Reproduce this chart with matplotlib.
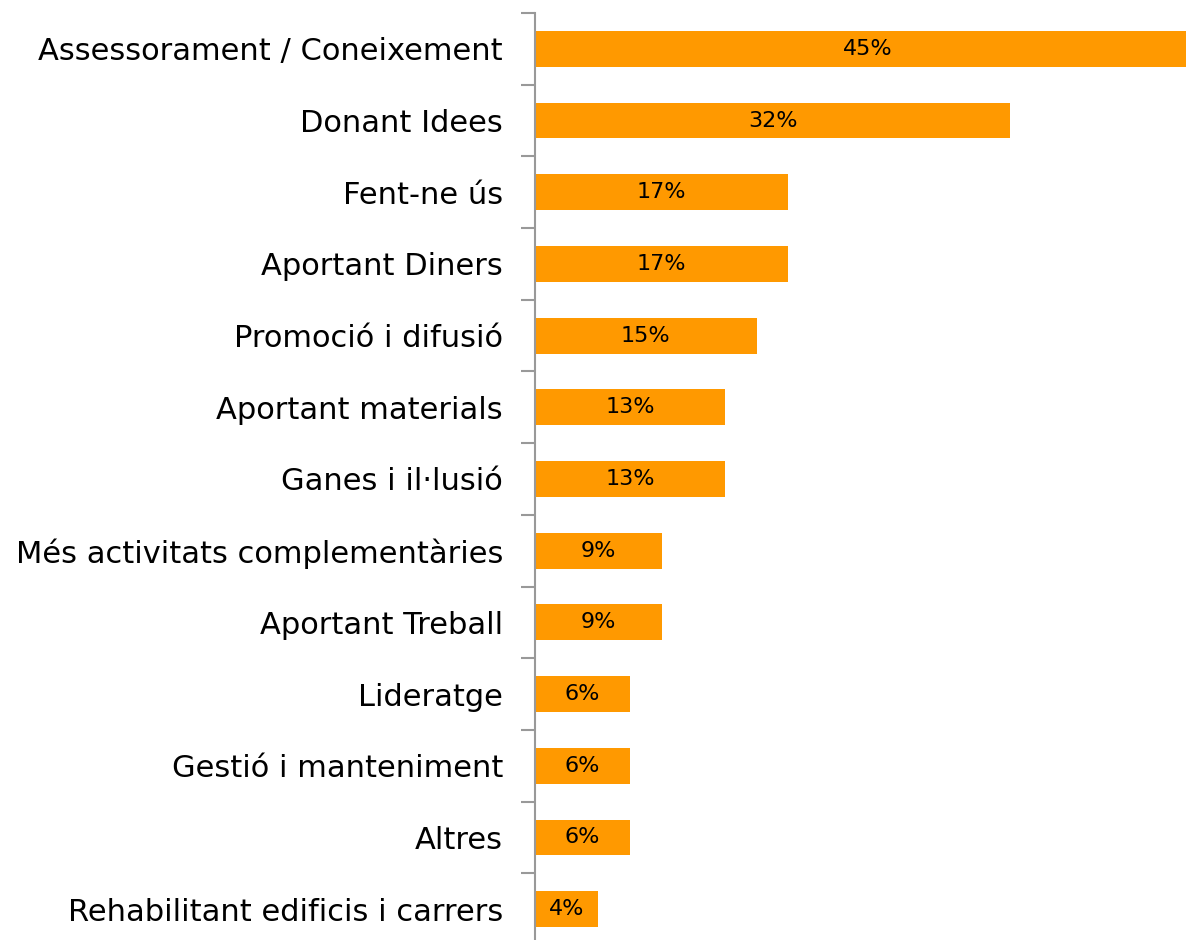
import matplotlib.pyplot as plt
import numpy as np

categories = ['Assessorament / Coneixement', 'Donant Idees', 'Fent-ne ús',
              'Aportant Diners', 'Promoció i difusió', 'Aportant materials',
              'Ganes i il·lusió', 'Més activitats complementàries',
              'Aportant Treball', 'Lideratge', 'Gestió i manteniment',
              'Altres', 'Rehabilitant edificis i carrers']
values = [44.68, 31.91, 17.02, 17.02, 14.89, 12.77, 12.77,
          8.51, 8.51, 6.38, 6.38, 6.38, 4.26]
labels = ['45%', '32%', '17%', '17%', '15%', '13%', '13%',
          '9%', '9%', '6%', '6%', '6%', '4%']

fig = plt.figure(figsize=(11.86, 9.40), dpi=100)
# axes runs a bit past the right and bottom edge, as in the original
ax = fig.add_axes([535 / 1186, 1 - 945 / 940, 670 / 1186, (945 - 13) / 940])

y = np.arange(len(categories))
ax.barh(y, values, height=0.5, color='#FF9900')
for yi, v, lab in zip(y, values, labels):
    ax.text(v / 2, yi, lab, ha='center', va='center', fontsize=16, color='black')

ax.set_xlim(0, 45)
ax.set_ylim(len(categories) - 0.5, -0.5)
ax.set_yticks(y)
ax.set_yticklabels(categories, fontsize=22)
ax.tick_params(axis='y', which='major', length=0, pad=23)
ax.set_yticks(np.arange(-0.5, len(categories), 1), minor=True)
ax.tick_params(axis='y', which='minor', length=10, width=1.5, color='#999999')
ax.set_xticks([])
for s in ['top', 'right', 'bottom']:
    ax.spines[s].set_visible(False)
ax.spines['left'].set_color('#999999')
ax.spines['left'].set_linewidth(1.5)

fig.savefig('out.png', dpi=100)
